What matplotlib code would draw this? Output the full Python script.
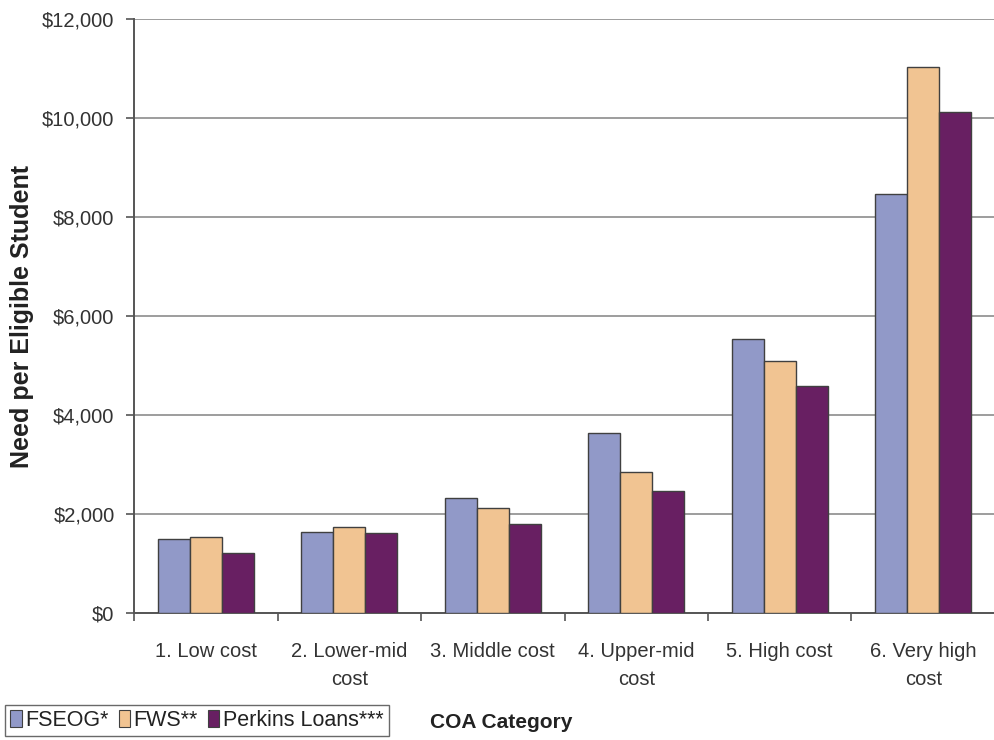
import numpy as np
import matplotlib
matplotlib.use("Agg")
import matplotlib.pyplot as plt
from matplotlib.patches import Patch

plt.rcParams['font.family'] = ['Liberation Sans', 'DejaVu Sans']

categories = ["1. Low cost", "2. Lower-mid\ncost", "3. Middle cost",
              "4. Upper-mid\ncost", "5. High cost", "6. Very high\ncost"]
fseog = [1495, 1648, 2329, 3642, 5535, 8471]
fws = [1548, 1750, 2133, 2861, 5103, 11043]
perkins = [1218, 1628, 1810, 2465, 4586, 10133]
series_names = ["FSEOG*", "FWS**", "Perkins Loans***"]
colors = ["#9199C8", "#F1C492", "#681F62"]
yticks = [0, 2000, 4000, 6000, 8000, 10000, 12000]

W, H = 995, 740
fig = plt.figure(figsize=(W / 100, H / 100), dpi=100)
ax = fig.add_axes([134 / W, 1 - 613.3 / H, (W - 134) / W, (613.3 - 19.3) / H])

x = np.arange(len(categories))
bw = 0.224
for i, (vals, c) in enumerate(zip([fseog, fws, perkins], colors)):
    ax.bar(x + (i - 1) * bw, vals, bw, color=c, edgecolor="#404040",
           linewidth=1.0, zorder=3)

ax.set_ylim(0, 12000)
ax.set_xlim(-0.5, -0.5 + (W - 134) / 144.3)
ax.set_yticks(yticks)
ax.set_yticklabels(["${:,}".format(v) for v in yticks])
ax.yaxis.grid(True, color="#8c8c8c", linewidth=1.2, zorder=0)
ax.set_axisbelow(True)

ax.set_xticks(x)
ax.set_xticklabels(categories, linespacing=1.6)
ax.set_xticks(np.arange(len(categories) + 1) - 0.5, minor=True)
ax.tick_params(axis="x", which="major", length=0, pad=21,
               labelsize=14.5, labelcolor="#333333")
ax.tick_params(axis="x", which="minor", length=6, width=1.2, color="#555555")
ax.tick_params(axis="y", length=6, width=1.2, color="#555555", pad=8,
               labelsize=14.5, labelcolor="#333333")

for s in ["top", "right"]:
    ax.spines[s].set_visible(False)
for s in ["left", "bottom"]:
    ax.spines[s].set_color("#555555")
    ax.spines[s].set_linewidth(1.4)

ax.set_ylabel("Need per Eligible Student", fontsize=18, fontweight="bold",
              color="#222222", labelpad=6)

handles = [Patch(facecolor=c, edgecolor="#404040", linewidth=0.8) for c in colors]
leg = fig.legend(handles, series_names, loc="center left",
                 bbox_to_anchor=(5 / W, 1 - 720.5 / H), ncol=3, frameon=True,
                 fancybox=False, fontsize=15.5, handlelength=0.55,
                 handleheight=0.8, handletextpad=0.15, columnspacing=0.45,
                 borderpad=0.25, borderaxespad=0)
leg.get_frame().set_edgecolor("#444444")
leg.get_frame().set_linewidth(1.0)
for t in leg.get_texts():
    t.set_color("#222222")

fig.text(430 / W, 1 - 722 / H, "COA Category", fontsize=15, fontweight="bold",
         color="#222222", va="center", ha="left")

fig.savefig("out.png", dpi=100)
